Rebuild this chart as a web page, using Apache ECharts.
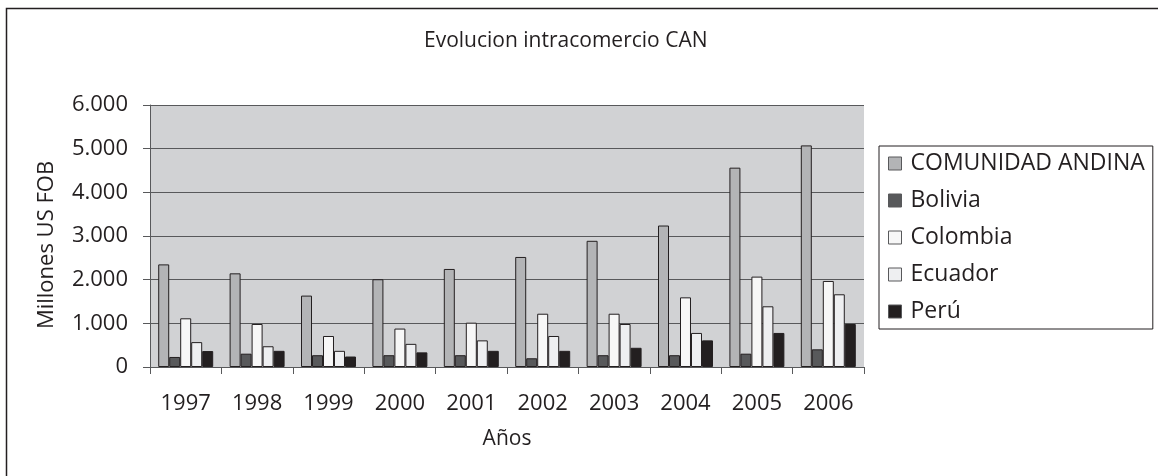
<!DOCTYPE html>
<html>
<head>
<meta charset="utf-8">
<script src="https://cdn.jsdelivr.net/npm/echarts@6/dist/echarts.min.js"></script>
<style>
  html, body { margin: 0; padding: 0; background: #fff; }
  #chart { width: 1158px; height: 476px; }
</style>
</head>
<body>
<div id="chart"></div>
<script>
const years = ["1997", "1998", "1999", "2000", "2001", "2002", "2003", "2004", "2005", "2006"];

const comunidadAndina = [2350, 2145, 1635, 2010, 2245, 2520, 2890, 3240, 4565, 5075];
const bolivia = [230, 305, 270, 270, 270, 200, 270, 270, 305, 405];
const colombia = [1115, 985, 710, 880, 1015, 1220, 1220, 1595, 2070, 1970];
const ecuador = [570, 475, 370, 530, 610, 710, 985, 780, 1390, 1665];
const peru = [365, 370, 240, 335, 370, 370, 440, 610, 780, 985];

const seriesNames = ["COMUNIDAD ANDINA", "Bolivia", "Colombia", "Ecuador", "Perú"];
const seriesColors = ["#b3b4b6", "#58595b", "#f7f7f7", "#eeeff1", "#231f20"];

const font = "Open Sans";
const textColor = "#231f20";

const chart = echarts.init(document.getElementById("chart"));

const makeSeries = (name, data, i) => ({
  name: name,
  type: "bar",
  data: data,
  barGap: "0%",
  barCategoryGap: "23%",
  itemStyle: {
    color: seriesColors[i],
    borderColor: "#231f20",
    borderWidth: 1,
  },
  emphasis: { disabled: true },
});

const option = {
  animation: false,
  backgroundColor: "#ffffff",
  textStyle: { fontFamily: font },
  title: {
    text: "Evolucion intracomercio CAN",
    left: 419,
    top: 26,
    textStyle: { fontFamily: font, fontSize: 21, fontWeight: "normal", color: textColor },
  },
  // chart frame: only top and left edges are inside the picture
  graphic: [
    {
      type: "rect",
      shape: { x: 6.5, y: 8.5, width: 1200, height: 500 },
      style: { fill: "none", stroke: "#231f20", lineWidth: 1.5 },
      silent: true,
    },
  ],
  legend: {
    orient: "vertical",
    left: 879,
    top: 146,
    width: 260,
    padding: [6, 8, 6, 9],
    itemWidth: 13,
    itemHeight: 13,
    itemGap: 14,
    borderColor: "#231f20",
    borderWidth: 1,
    borderRadius: 0,
    icon: "rect",
    data: seriesNames,
    itemStyle: { borderColor: "#58595b", borderWidth: 1 },
    textStyle: { fontFamily: font, fontSize: 23, color: textColor, padding: [0, 0, 0, 4] },
  },
  grid: {
    left: 150,
    top: 105,
    right: 294,
    bottom: 109,
    show: true,
    backgroundColor: "#d1d2d4",
    borderWidth: 0,
  },
  xAxis: {
    type: "category",
    data: years,
    name: "Años",
    nameLocation: "middle",
    nameGap: 62,
    nameTextStyle: { fontFamily: font, fontSize: 21, color: textColor },
    axisLine: { lineStyle: { color: "#58595b", width: 1 } },
    axisTick: { show: true, length: 7, lineStyle: { color: "#58595b" } },
    axisLabel: { fontFamily: font, fontSize: 22, color: textColor, margin: 26 },
  },
  yAxis: {
    type: "value",
    min: 0,
    max: 6000,
    interval: 1000,
    name: "Millones US FOB",
    nameLocation: "middle",
    nameGap: 92,
    nameTextStyle: { fontFamily: font, fontSize: 22, color: textColor, padding: [0, 18, 0, 0] },
    axisLine: { show: true, lineStyle: { color: "#58595b", width: 1 } },
    axisTick: { show: true, length: 7, lineStyle: { color: "#58595b" } },
    axisLabel: {
      fontFamily: font,
      fontSize: 22,
      color: textColor,
      margin: 22,
      formatter: (v) => v.toString().replace(/\B(?=(\d{3})+(?!\d))/g, "."),
    },
    splitLine: { show: true, lineStyle: { color: "#58595b", width: 1 } },
  },
  series: [
    makeSeries(seriesNames[0], comunidadAndina, 0),
    makeSeries(seriesNames[1], bolivia, 1),
    makeSeries(seriesNames[2], colombia, 2),
    makeSeries(seriesNames[3], ecuador, 3),
    makeSeries(seriesNames[4], peru, 4),
  ],
};

chart.setOption(option);
</script>
</body>
</html>
